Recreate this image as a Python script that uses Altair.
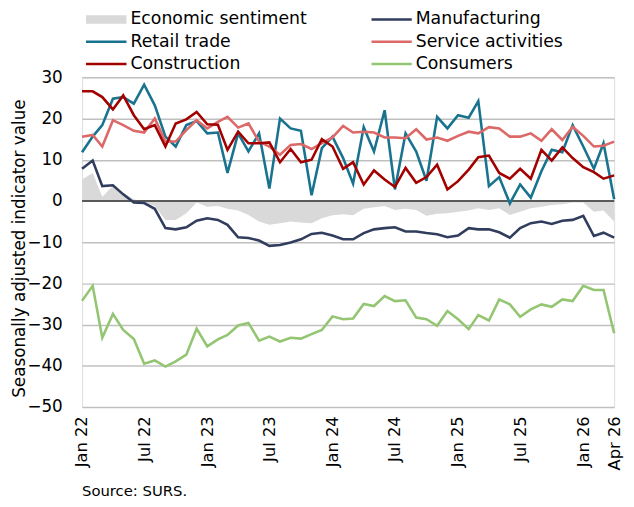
import altair as alt
import pandas as pd

months = pd.date_range("2022-01-01", periods=52, freq="MS").strftime("%Y-%m-%d").tolist()

sentiment = [5.2, 6.8, 1.0, 3.6, 2.0, 0.4, -0.3, -1.2, -4.6, -4.6, -3.0, -0.4,
             -1.4, -1.2, -1.9, -2.3, -3.4, -5.0, -5.8, -5.4, -5.0, -5.2, -5.4, -4.2,
             -3.5, -3.2, -3.5, -1.9, -1.5, -1.2, -2.2, -1.9, -2.2, -3.6, -3.1, -3.0,
             -2.6, -2.3, -1.8, -2.2, -1.8, -3.4, -2.6, -1.8, -1.4, -1.0, -0.8, -0.4,
             -0.4, -2.6, -2.3, -5.0]
manufacturing = [7.8, 9.8, 3.6, 3.8, 1.6, -0.4, -0.5, -1.9, -6.6, -6.9, -6.4, -4.8,
                 -4.2, -4.6, -5.8, -8.8, -9.0, -9.6, -10.9, -10.7, -10.1, -9.3, -8.0, -7.7,
                 -8.4, -9.3, -9.3, -7.8, -6.9, -6.6, -6.4, -7.4, -7.4, -7.8, -8.1, -8.8,
                 -8.4, -6.6, -6.9, -6.9, -7.6, -8.9, -6.6, -5.4, -5.0, -5.6, -4.8, -4.6,
                 -3.6, -8.5, -7.7, -8.9]
retail = [11.8, 15.6, 18.4, 24.8, 25.2, 23.6, 28.2, 23.2, 15.6, 13.2, 18.4, 19.4,
          16.4, 16.6, 6.8, 16.4, 12.0, 16.4, 3.0, 20.0, 17.6, 17.0, 1.4, 12.8,
          15.6, 10.4, 4.2, 17.9, 12.0, 22.0, 2.8, 16.4, 12.0, 4.9, 20.4, 17.6,
          20.8, 20.2, 24.2, 3.6, 5.8, -0.6, 4.0, 0.8, 7.2, 12.4, 11.8, 18.4,
          13.2, 7.8, 14.0, 0.4]
services = [15.6, 16.0, 13.2, 19.6, 18.4, 17.0, 16.6, 20.0, 14.4, 14.4, 17.2, 19.6,
            17.6, 19.2, 20.4, 17.8, 18.8, 14.4, 13.2, 11.2, 13.6, 13.8, 12.6, 14.0,
            15.4, 18.2, 16.6, 16.8, 16.6, 15.4, 15.4, 15.2, 17.4, 14.9, 15.4, 14.6,
            15.8, 16.8, 16.4, 17.9, 17.6, 15.6, 15.6, 16.4, 14.6, 17.4, 14.8, 18.0,
            15.8, 13.2, 13.4, 14.4]
construction = [26.6, 26.6, 25.2, 22.2, 25.6, 20.8, 17.4, 18.4, 13.2, 18.8, 19.8, 21.6,
                18.6, 18.5, 12.4, 16.8, 14.0, 14.0, 14.2, 9.4, 12.6, 9.4, 10.0, 15.0,
                13.2, 7.8, 9.4, 4.0, 7.4, 5.2, 3.4, 8.0, 4.4, 5.8, 8.8, 2.8,
                4.8, 7.6, 10.6, 11.0, 6.8, 5.4, 7.8, 5.4, 12.4, 9.8, 13.0, 10.4,
                8.2, 7.0, 5.4, 6.2]
consumers = [-24.2, -20.6, -33.2, -27.4, -31.3, -33.5, -39.5, -38.7, -40.2, -38.9, -37.3, -31.0,
             -35.3, -33.6, -32.5, -30.2, -29.6, -33.9, -32.9, -34.1, -33.2, -33.4, -32.3, -31.3,
             -28.0, -28.7, -28.5, -25.0, -25.5, -23.1, -24.3, -24.1, -28.3, -28.7, -30.3, -26.7,
             -28.7, -31.1, -27.7, -29.0, -23.9, -25.1, -28.1, -26.3, -25.1, -25.7, -23.9, -24.3,
             -20.6, -21.6, -21.6, -32.1]

# legend is filled column by column (3 rows x 2 columns)
series_names = ["Economic sentiment", "Retail trade", "Construction",
                "Manufacturing", "Service activities", "Consumers"]
series_colors = ["#D9D9D9", "#19738F", "#A30000", "#313D5C", "#DC6868", "#93C572"]

# legend symbols: a thick block for the area series, thin strokes for the lines
BLOCK = "M-1,-0.21H1V0.21H-1Z"
STROKE = "M-1,-0.065H1V0.065H-1Z"
series_shapes = [BLOCK, STROKE, STROKE, STROKE, STROKE, STROKE]

tick_dates = [(2022, 1), (2022, 7), (2023, 1), (2023, 7), (2024, 1), (2024, 7),
              (2025, 1), (2025, 7), (2026, 1), (2026, 4)]

FONT = "DejaVu Sans"

area_df = pd.DataFrame({"month": months, "value": sentiment,
                        "series": "Economic sentiment"})
line_rows = []
for name, vals in [("Manufacturing", manufacturing), ("Retail trade", retail),
                   ("Service activities", services), ("Construction", construction),
                   ("Consumers", consumers)]:
    for m, v in zip(months, vals):
        line_rows.append({"month": m, "value": v, "series": name})
line_df = pd.DataFrame(line_rows)
zero_df = pd.DataFrame({"value": [0]})

legend = alt.Legend(
    title=None, orient="none", legendX=4, legendY=-67, columns=2,
    columnPadding=65, rowPadding=4.5, clipHeight=17,
    symbolSize=1681, symbolStrokeWidth=0, symbolOpacity=1,
    labelFont=FONT, labelFontSize=17.5, labelColor="#000000", labelOffset=4,
    labelLimit=400,
)

color = alt.Color("series:N",
                  scale=alt.Scale(domain=series_names, range=series_colors),
                  legend=legend)
shape = alt.Shape("series:N",
                  scale=alt.Scale(domain=series_names, range=series_shapes),
                  legend=legend)

x_enc = alt.X("month:T",
              scale=alt.Scale(type="utc",
                              domain=[alt.DateTime(year=2022, month=1, date=1, utc=True),
                                      alt.DateTime(year=2026, month=4, date=1, utc=True)]),
              axis=alt.Axis(values=[alt.DateTime(year=y, month=m, date=1, utc=True) for y, m in tick_dates],
                            format="%b %y", labelAngle=270, labelFontSize=16.5, labelFont=FONT,
                            labelColor="#000000", ticks=False, domain=False, grid=False,
                            labelPadding=9, labelFlush=False, labelOverlap=False, title=None))
y_enc = alt.Y("value:Q",
              scale=alt.Scale(domain=[-50, 30], nice=False),
              axis=alt.Axis(values=list(range(-50, 31, 10)), ticks=False, domain=False,
                            labelPadding=20, labelFontSize=17, labelFont=FONT,
                            labelColor="#000000", gridColor="#C0C0C0", gridWidth=1.5,
                            title="Seasonally adjusted indicator value", titleFontSize=17,
                            titleFont=FONT, titleFontWeight="normal", titleColor="#000000",
                            titleAngle=270, titleAlign="center", titleBaseline="middle",
                            titleX=-63, titleY=173))

area = alt.Chart(area_df).mark_area(opacity=1).encode(x=x_enc, y=y_enc, color=color)
zero = alt.Chart(zero_df).mark_rule(color="#595959", strokeWidth=2).encode(y=alt.Y("value:Q"))
lines = alt.Chart(line_df).mark_line(strokeWidth=2.6).encode(
    x=x_enc, y=y_enc, color=color, order=alt.Order("month:T"))
# legend-only layer: no rows, so nothing is drawn in the plot
keys = alt.Chart(alt.Data(values=[])).mark_point(filled=True, opacity=1).encode(
    color=color, shape=shape)

chart = alt.layer(area, zero, lines, keys).properties(
    width=539, height=334,
    padding={"left": 75, "top": 67, "right": 12, "bottom": 92},
    autosize=alt.AutoSizeParams(type="none"),
    title=alt.TitleParams("Source: SURS.", orient="bottom", anchor="start", frame="group",
                          fontSize=15, font=FONT, fontWeight="normal", color="#000000",
                          offset=14),
).configure_view(stroke="#BFBFBF", strokeWidth=2).configure(font=FONT)

chart.save("out.html", embed_options={"renderer": "svg", "actions": False})
